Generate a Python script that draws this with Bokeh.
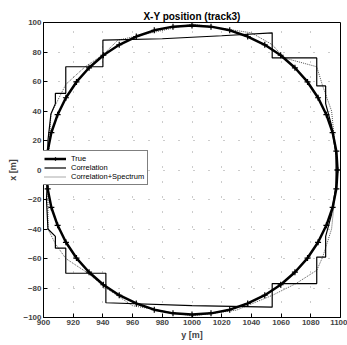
from bokeh.plotting import figure
from bokeh.models import Range1d, FixedTicker, Legend, LegendItem
from bokeh.embed import file_html
from bokeh.resources import INLINE

# True track (circle around (1000, 0))
true_y = [1098, 1097.2, 1094.7, 1090.5, 1084.9, 1077.8, 1069.3, 1059.7, 1049.0, 1037.5, 1025.4, 1012.8,
          1000, 987.2, 974.6, 962.5, 951.0, 940.3, 930.7, 922.2, 915.1, 909.5, 905.3, 902.8,
          902, 902.8, 905.3, 909.5, 915.1, 922.2, 930.7, 940.3, 951.0, 962.5, 974.6, 987.2,
          1000, 1012.8, 1025.4, 1037.5, 1049.0, 1059.7, 1069.3, 1077.8, 1084.9, 1090.5, 1094.7, 1097.2, 1098]
true_x = [0, 12.8, 25.4, 37.5, 49.0, 59.7, 69.3, 77.8, 84.9, 90.5, 94.7, 97.2,
          98, 97.2, 94.7, 90.5, 84.9, 77.8, 69.3, 59.7, 49.0, 37.5, 25.4, 12.8,
          0, -12.8, -25.4, -37.5, -49.0, -59.7, -69.3, -77.8, -84.9, -90.5, -94.7, -97.2,
          -98, -97.2, -94.7, -90.5, -84.9, -77.8, -69.3, -59.7, -49.0, -37.5, -25.4, -12.8, 0]

# Correlation estimate (staircase)
corr_y = [903, 902, 903, 903, 905, 908, 908, 915, 915, 940, 940, 980, 1020, 1054, 1054, 1084, 1084,
          1090, 1090, 1094, 1097, 1097, 1094, 1090, 1090, 1084, 1084, 1054, 1054, 1000, 942, 942,
          915, 915, 908, 908, 903]
corr_x = [-40, -20, 0, 20, 38, 45, 52, 52, 70, 70, 88, 89, 91, 93, 76, 76, 57,
          57, 45, 30, 10, -10, -30, -45, -59, -59, -77, -77, -93, -92, -90, -70,
          -70, -53, -53, -45, -40]

# Correlation + Spectrum estimate
cs_y = [903, 903, 905, 912, 915, 928, 940, 950, 1000, 1040, 1054, 1062, 1084, 1088, 1094, 1098,
        1094, 1088, 1084, 1070, 1054, 1030, 1000, 960, 942, 930, 915, 908, 903]
cs_x = [-40, 0, 38, 52, 58, 70, 78, 88, 99, 93, 85, 76, 70, 57, 40, 0,
        -40, -59, -68, -77, -85, -95, -99, -92, -80, -70, -60, -50, -40]

x_ticks = [900, 920, 940, 960, 980, 1000, 1020, 1040, 1060, 1080, 1100]
y_ticks = [-100, -80, -60, -40, -20, 0, 20, 40, 60, 80, 100]

FONT = "Liberation Sans"

p = figure(width=347, height=345, output_backend="svg", toolbar_location=None,
           x_range=Range1d(900, 1100), y_range=Range1d(-100, 100),
           min_border_left=43, min_border_right=7, min_border_top=22, min_border_bottom=28,
           title="X-Y position (track3)")
p.title.align = "center"
p.title.text_font = FONT
p.title.text_font_size = "10px"
p.title.text_font_style = "bold"
p.title.text_color = "black"
p.title.offset = 0
p.title.standoff = 2

p.outline_line_color = "black"
p.outline_line_width = 1
p.background_fill_color = "white"
p.border_fill_color = "white"

for ax, ticks, lab in ((p.xaxis[0], x_ticks, "y [m]"), (p.yaxis[0], y_ticks, "x [m]")):
    ax.ticker = FixedTicker(ticks=ticks)
    ax.axis_label = lab
    ax.axis_label_text_font = FONT
    ax.axis_label_text_font_size = "9px"
    ax.axis_label_text_font_style = "bold"
    ax.axis_label_standoff = 2
    ax.major_label_text_font = FONT
    ax.major_label_text_font_size = "8px"
    ax.major_label_text_font_style = "bold"
    ax.major_label_standoff = 2
    ax.major_tick_in = 4
    ax.major_tick_out = 0
    ax.minor_tick_line_color = None
    ax.axis_line_color = "black"

p.grid.grid_line_color = "black"
p.grid.grid_line_alpha = 0.4
p.grid.grid_line_dash = "1 14"
p.xgrid.ticker = FixedTicker(ticks=x_ticks)
p.ygrid.ticker = FixedTicker(ticks=y_ticks)

r_cs = p.line(cs_y, cs_x, line_color="#555555", line_width=1, line_dash="1 1")
r_corr = p.line(corr_y, corr_x, line_color="black", line_width=1.2)
r_true = p.line(true_y, true_x, line_color="black", line_width=2.5)
r_true_m = p.scatter(true_y, true_x, marker="cross", size=6, line_color="black", line_width=1.2)

legend = Legend(items=[
    LegendItem(label="True", renderers=[r_true, r_true_m]),
    LegendItem(label="Correlation", renderers=[r_corr]),
    LegendItem(label="Correlation+Spectrum", renderers=[r_cs]),
], location=(-3, 132))
legend.label_text_font = FONT
legend.label_text_font_size = "7.5px"
legend.label_text_color = "black"
legend.label_height = 9
legend.glyph_height = 9
legend.glyph_width = 22
legend.spacing = 0
legend.padding = 3
legend.margin = 0
legend.border_line_color = "black"
legend.border_line_width = 1
legend.background_fill_alpha = 1
p.add_layout(legend)

open("out.html", "w").write(file_html(p, INLINE))
